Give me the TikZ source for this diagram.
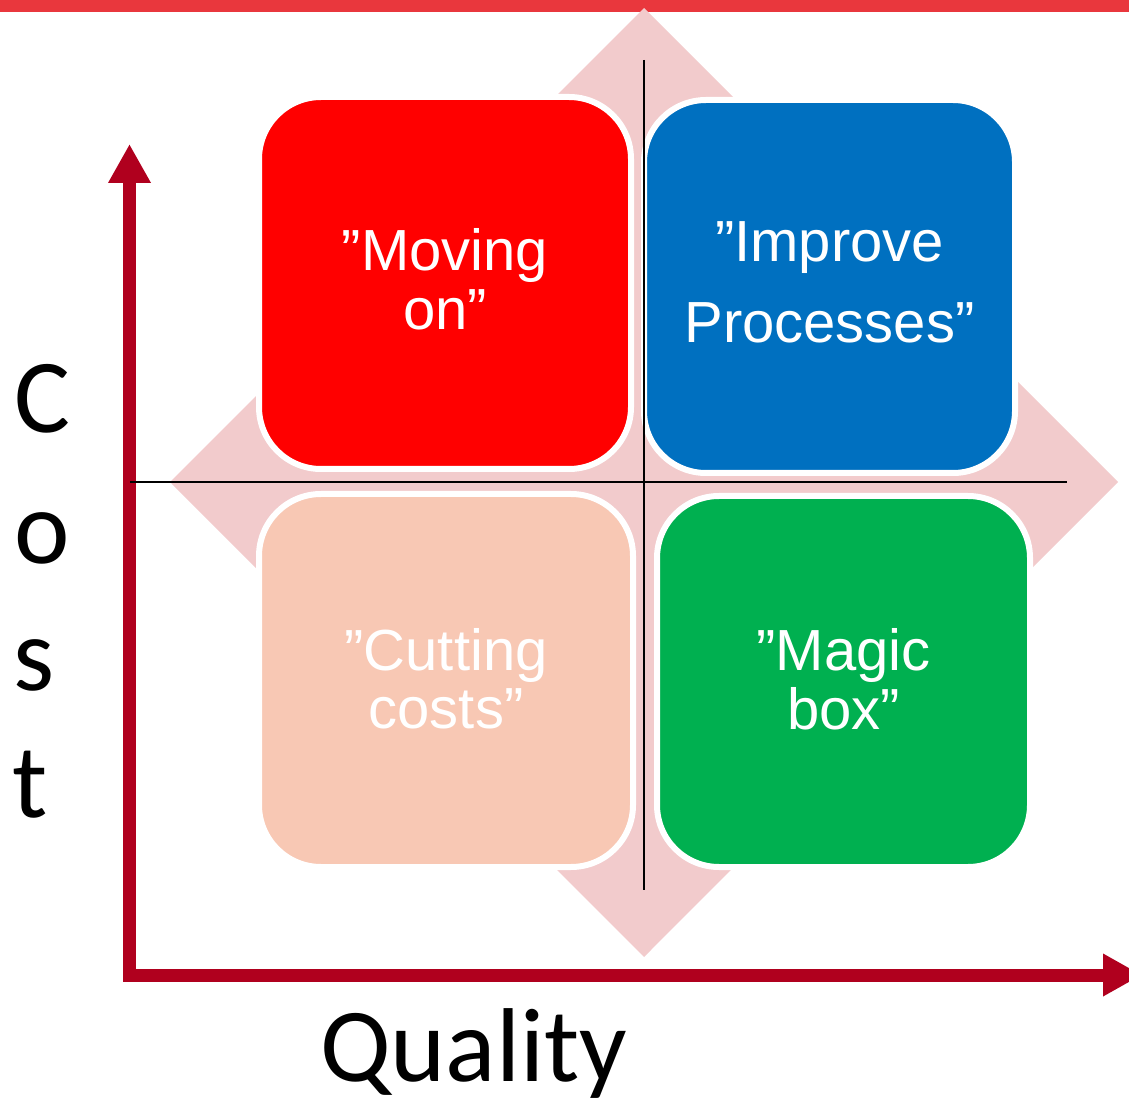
\documentclass[tikz,border=0pt]{standalone}
\usepackage{fontspec}
\setmainfont{Liberation Sans}
\newfontfamily\calib{Carlito}
\usetikzlibrary{arrows.meta}
\definecolor{topbar}{HTML}{E9373D}
\definecolor{diam}{HTML}{F2CBCC}
\definecolor{axisred}{HTML}{B0001E}
\definecolor{boxred}{HTML}{FF0000}
\definecolor{boxblue}{HTML}{0070C0}
\definecolor{boxpeach}{HTML}{F8C8B4}
\definecolor{boxgreen}{HTML}{00B050}
\begin{document}
\begin{tikzpicture}[x=0.5pt,y=-0.5pt,
  quad/.style={draw=white, line width=3pt, rounded corners=31pt, inner sep=0pt, outer sep=0pt},
  boxtext/.style={text=white, font=\fontsize{29}{33}\selectfont, anchor=base, inner sep=0pt},
  axislabel/.style={text=black, font=\calib\fontsize{52.5}{60}\selectfont, anchor=base, inner sep=0pt},
  axisline/.style={draw=axisred, line width=6.5pt, line join=miter,
    {Triangle[length=19.5pt,width=20pt]}-{Triangle[length=19.5pt,width=20pt]}},
  guide/.style={draw=black, line width=1pt}]
\useasboundingbox (0,0) rectangle (1129,1106);
% top bar and background diamond
\fill[topbar] (0,0) rectangle (1129,12.5);
\fill[diam] (644,8) -- (1118,482) -- (644,957) -- (170,482) -- cycle;
% quadrant boxes
\node[quad, fill=boxred, minimum width=186pt, minimum height=186pt] (mov) at (445,283) {};
\node[quad, fill=boxblue, minimum width=185.5pt, minimum height=186.5pt] (imp) at (829.5,286.5) {};
\node[quad, fill=boxpeach, minimum width=187pt, minimum height=186.5pt] (cut) at (446,680.5) {};
\node[quad, fill=boxgreen, minimum width=186.5pt, minimum height=185.5pt] (mag) at (843.5,681.5) {};
% axes
\coordinate (origin) at (129.5,975);
\coordinate (ytip) at (129.5,144);
\coordinate (xtip) at (1142,975);
\draw[axisline] (ytip) -- (origin) -- (xtip);
% guide lines
\coordinate (vtop) at (644,60);
\coordinate (vbot) at (644,890);
\coordinate (hleft) at (130,482);
\coordinate (hright) at (1067,482);
\draw[guide] (vtop) -- (vbot);
\draw[guide] (hleft) -- (hright);
% box texts
\node[boxtext] (movA) at (445,271) {”Moving};
\node[boxtext] (movB) at (445,330) {on”};
\node[boxtext] (impA) at (829.5,262) {”Improve};
\node[boxtext] (impB) at (829.5,343) {Processes”};
\node[boxtext] (cutA) at (446,670) {”Cutting};
\node[boxtext] (cutB) at (446,728) {costs”};
\node[boxtext] (magA) at (843.5,670) {”Magic};
\node[boxtext] (magB) at (843.5,729) {box”};
% axis labels
\node[axislabel] (lc) at (42.5,433) {C};
\node[axislabel] (lo) at (42,563) {o};
\node[axislabel] (ls) at (34.5,690) {s};
\node[axislabel] (lt) at (30,817) {t};
\node[axislabel] (lq) at (473.5,1081) {Quality};
\end{tikzpicture}
\end{document}
